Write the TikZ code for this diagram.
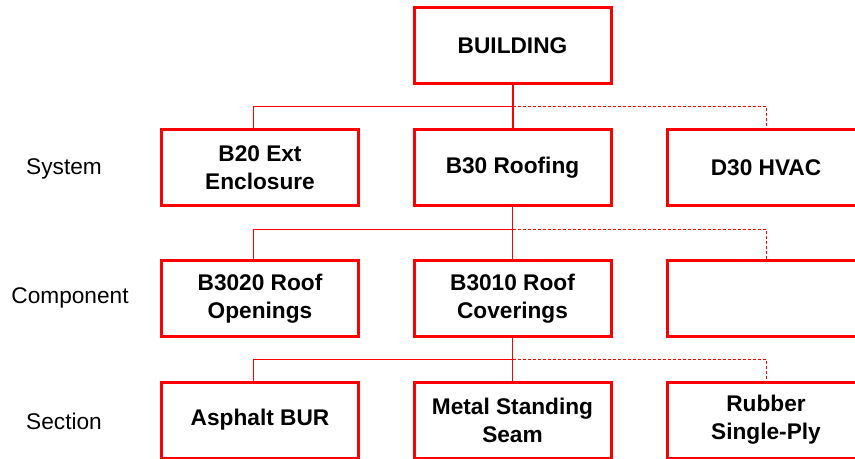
\documentclass[tikz,border=0pt]{standalone}
\usepackage{fontspec}
\setmainfont{Liberation Sans}
\definecolor{wbsRed}{HTML}{FF0000}
\tikzset{
  wbs diagram/.style={
    x=0.75pt, y=-0.75pt,
    every node/.style={font=\fontsize{17}{21}\selectfont,
      text=black, inner sep=0pt, outer sep=0pt}
  },
  wbs box/.style={draw=wbsRed, line width=2.25pt, align=center,
    minimum width=147.75pt, minimum height=57pt, font=\fontsize{17}{21}\selectfont\bfseries},
  wbs trunk/.style={draw=wbsRed, line width=1.5pt},
  wbs link/.style={draw=wbsRed, line width=0.75pt},
  wbs dash/.style={wbs link, dash pattern=on 2.25pt off 1.5pt}
}

\begin{document}
\begin{tikzpicture}[wbs diagram]
  \useasboundingbox (0,0) rectangle (855,459);
  % level labels
  \node (lblSystem) at (64,169) {System};
  \node (lblComponent) at (70,298) {Component};
  \node (lblSection) at (64,421) {Section};
  % boxes
  \node[wbs box] (building) at (512.5,45.5) {BUILDING};
  \node[wbs box] (b20) at (260,167.5) {B20 Ext\\Enclosure};
  \node[wbs box] (b30) at (512.5,167.5) {B30 Roofing};
  \node[wbs box] (d30) at (766,167.5) {D30 HVAC};
  \node[wbs box] (b3020) at (260,298.5) {B3020 Roof\\Openings};
  \node[wbs box] (b3010) at (512.5,298.5) {B3010 Roof\\Coverings};
  \node[wbs box] (blank) at (766,298.5) {};
  \node[wbs box] (asphalt) at (260,420) {Asphalt BUR};
  \node[wbs box] (metal) at (512.5,420) {Metal Standing\\Seam};
  \node[wbs box] (rubber) at (766,420) {Rubber\\Single-Ply};
  % connectors
  \coordinate (bus1) at (512.5,107);
  \coordinate (bus2) at (512.5,230);
  \coordinate (bus3) at (512.5,359);
  \draw[wbs trunk] (building) -- (b30);
  \draw[wbs link] ([xshift=-5.25pt]b20.north) |- (bus1);
  \draw[wbs dash] (bus1) -| (d30.north);
  \draw[wbs link] (b30) -- (b3010);
  \draw[wbs link] ([xshift=-5.25pt]b3020.north) |- (bus2);
  \draw[wbs dash] (bus2) -| (blank.north);
  \draw[wbs link] (b3010) -- (metal);
  \draw[wbs link] ([xshift=-5.25pt]asphalt.north) |- (bus3);
  \draw[wbs dash] (bus3) -| (rubber.north);
\end{tikzpicture}
\end{document}
